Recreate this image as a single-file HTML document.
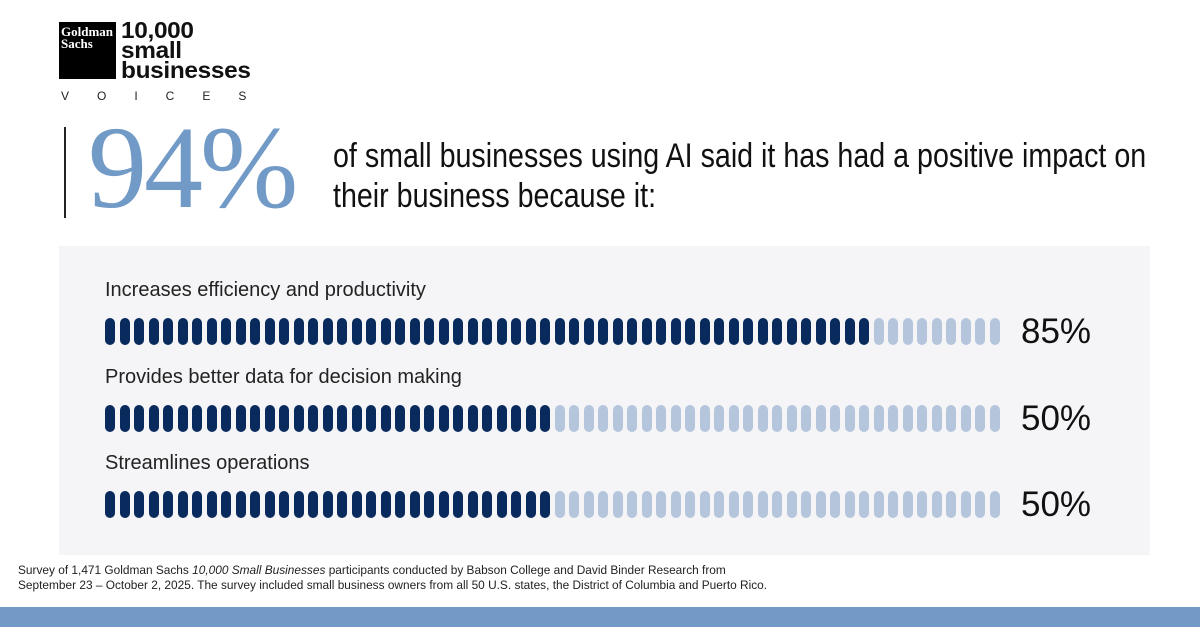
<!DOCTYPE html>
<html><head><meta charset="utf-8"><style>
body{margin:0;width:1200px;height:627px;background:#fff;position:relative;overflow:hidden;font-family:"Liberation Sans",sans-serif}
.abs{position:absolute}
</style></head><body>
<div class="abs" style="left:59px;top:22px;width:57px;height:57px;background:#000;color:#fff;font-family:'Liberation Serif',serif;font-size:13px;line-height:12px;padding:4px 2px;box-sizing:border-box;font-weight:bold">Goldman<br>Sachs</div>
<div class="abs" style="left:121px;top:20px;font-weight:bold;font-size:23px;line-height:20px;letter-spacing:-0.3px;color:#111;transform:scaleX(1.06);transform-origin:left top">10,000<br>small<br>businesses</div>
<div class="abs" style="left:61px;top:89px;font-size:12px;letter-spacing:28px;color:#222">VOICES</div>
<div class="abs" style="left:64px;top:127px;width:2px;height:91px;background:#222"></div>
<div class="abs" style="left:88px;top:108px;font-family:'Liberation Serif',serif;font-size:118px;line-height:120px;color:#729ac7;letter-spacing:-3px">94%</div>
<div class="abs" style="left:333px;top:136px;font-size:34px;line-height:40px;color:#111;white-space:nowrap;transform:scaleX(0.842);transform-origin:left top">of small businesses using AI said it has had a positive impact on<br>their business because it:</div>
<div class="abs" style="left:59px;top:246px;width:1091px;height:309px;background:#f5f5f7"></div>
<div id="rows"></div>
<div class="abs" style="left:18px;top:563px;font-size:12.3px;line-height:15px;color:#222;white-space:nowrap;transform:scaleX(0.965);transform-origin:left top">Survey of 1,471 Goldman Sachs <i>10,000 Small Businesses</i> participants conducted by Babson College and David Binder Research from<br>September 23 – October 2, 2025. The survey included small business owners from all 50 U.S. states, the District of Columbia and Puerto Rico.</div>
<div class="abs" style="left:0;top:607px;width:1200px;height:20px;background:#7399c6"></div>
<script>
const categories=["Increases efficiency and productivity","Provides better data for decision making","Streamlines operations"];
const values=[85,50,50];
const valueLabels=["85%","50%","50%"];
const PILLS=62,X0=105,PITCH=14.5,ROW0=318,ROWH=86.5;
const host=document.getElementById('rows');
categories.forEach((c,i)=>{
  const y=ROW0+i*ROWH;
  const lab=document.createElement('div');
  lab.className='abs';
  
  
  lab.style.cssText=`left:105px;top:${y-39}px;font-size:20px;color:#222`;
  lab.textContent=c;host.appendChild(lab);
  const filled=Math.round(values[i]/100*PILLS);
  for(let k=0;k<PILLS;k++){
    const p=document.createElement('div');
    p.className='abs';
    
    
    p.style.cssText=`left:${X0+k*PITCH}px;top:${y}px;width:10px;height:27px;border-radius:5px;background:${k<filled?'#092a5c':'#b4c5dc'}`;
    host.appendChild(p);
  }
  const v=document.createElement('div');
  v.className='abs';
  
  
  v.style.cssText=`left:1021px;top:${y-6}px;font-size:35px;color:#111`;
  v.textContent=valueLabels[i];host.appendChild(v);
});
</script>
</body></html>
